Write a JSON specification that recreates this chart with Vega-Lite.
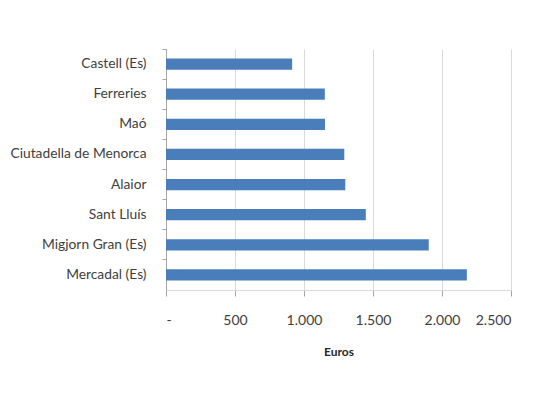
{
  "$schema": "https://vega.github.io/schema/vega-lite/v6.json",
  "width": 345,
  "height": 241,
  "autosize": {"type": "none"},
  "padding": {"left": 166, "top": 49, "right": 40, "bottom": 112},
  "background": "white",
  "data": {
    "values": [
      {"municipio": "Castell (Es)", "euros": 914},
      {"municipio": "Ferreries", "euros": 1151},
      {"municipio": "Maó", "euros": 1152},
      {"municipio": "Ciutadella de Menorca", "euros": 1292},
      {"municipio": "Alaior", "euros": 1299},
      {"municipio": "Sant Lluís", "euros": 1448},
      {"municipio": "Migjorn Gran (Es)", "euros": 1904},
      {"municipio": "Mercadal (Es)", "euros": 2180}
    ]
  },
  "config": {
    "view": {"stroke": null},
    "font": "Lato",
    "axis": {"labelFont": "Lato", "titleFont": "Lato"}
  },
  "mark": {"type": "bar", "color": "#4a7ebb", "height": {"band": 0.37}},
  "encoding": {
    "y": {
      "field": "municipio",
      "type": "nominal",
      "sort": null,
      "scale": {"paddingInner": 0, "paddingOuter": 0},
      "axis": {
        "title": null,
        "bandPosition": 0,
        "labelOffset": 0,
        "domainColor": "#a6a6a6",
        "tickColor": "#a6a6a6",
        "tickSize": 4,
        "labelPadding": 16,
        "labelFontSize": 13.8,
        "labelColor": "#404040",
        "grid": false
      }
    },
    "x": {
      "field": "euros",
      "type": "quantitative",
      "scale": {"domain": [0, 2500], "nice": false},
      "axis": {
        "title": "Euros",
        "values": [0, 500, 1000, 1500, 2000, 2500],
        "labelExpr": "datum.value == 0 ? '-' : replace(format(datum.value, ','), ',', '.')",
        "grid": true,
        "gridColor": "#d9d9d9",
        "domainColor": "#d9d9d9",
        "tickColor": "#a6a6a6",
        "tickSize": 6,
        "labelPadding": 17,
        "labelFontSize": 14,
        "labelColor": "#404040",
        "titleFontSize": 12,
        "titleFontWeight": "bold",
        "titleColor": "#262626",
        "titlePadding": 19
      }
    }
  }
}
